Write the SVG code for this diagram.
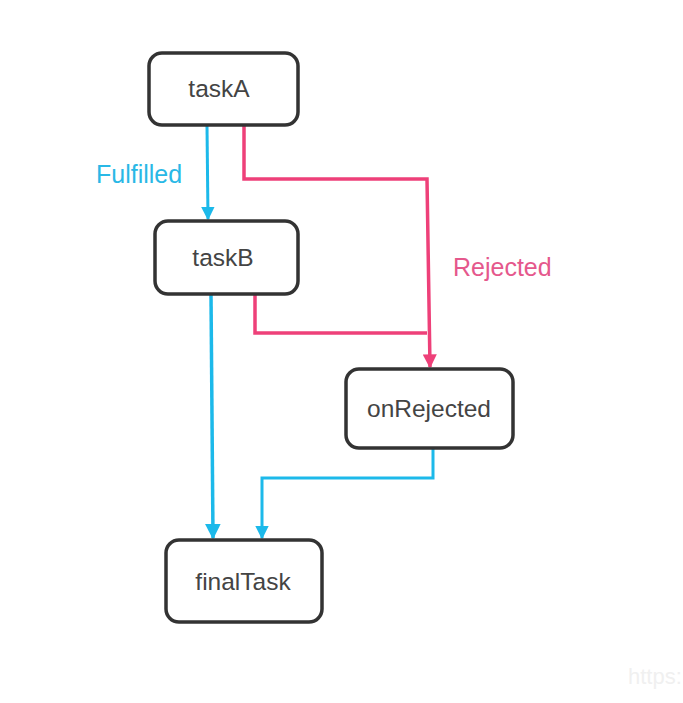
<svg xmlns="http://www.w3.org/2000/svg" width="683" height="703" viewBox="0 0 683 703">
<style>
.node rect{fill:#fff;stroke:#333;stroke-width:3.5}
.node text{font-family:"Liberation Sans",Arial,sans-serif;font-size:24.5px;fill:#444;text-anchor:middle}
.blue{fill:none;stroke:#1cb9ea;stroke-width:3}
.pink{fill:none;stroke:#ee4079;stroke-width:3.5}
.lbl{font-family:"Liberation Sans",Arial,sans-serif;font-size:25px}
</style>
<defs>
<marker id="ab" viewBox="0 0 10 10" refX="9" refY="5" markerWidth="4.5" markerHeight="4.5" markerUnits="strokeWidth" orient="auto"><path d="M0,0L10,5L0,10z" fill="#1cb9ea"/></marker>
<marker id="ap" viewBox="0 0 10 10" refX="9" refY="5" markerWidth="4" markerHeight="4" markerUnits="strokeWidth" orient="auto"><path d="M0,0L10,5L0,10z" fill="#ee4079"/></marker>
</defs>
<rect width="683" height="703" fill="#fff"/>
<g id="connectors">
<path class="blue" d="M207,126L208,219" marker-end="url(#ab)"/>
<path class="pink" d="M244,126V179H427L430,367" marker-end="url(#ap)"/>
<path class="pink" d="M255,295V333H427"/>
<path class="blue" style="stroke-width:3.5" d="M211,295L213,538" marker-end="url(#ab)"/>
<path class="blue" d="M433,449V478H262V538" marker-end="url(#ab)"/>
</g>
<text class="lbl" x="96" y="183" fill="#29b8e6">Fulfilled</text>
<text class="lbl" x="453" y="276" fill="#e5588c">Rejected</text>
<text x="628" y="684" font-family="Liberation Sans,Arial,sans-serif" font-size="22" fill="#f0f0f0">https:</text>
<g id="taskA" class="node"><rect x="149" y="53" width="149" height="72" rx="13"/><text x="219" y="97">taskA</text></g>
<g id="taskB" class="node"><rect x="155" y="221" width="143" height="73" rx="13"/><text x="223" y="266">taskB</text></g>
<g id="onRejected" class="node"><rect x="346" y="369" width="167" height="79" rx="13"/><text x="429" y="417">onRejected</text></g>
<g id="finalTask" class="node"><rect x="166" y="540" width="156" height="82" rx="13"/><text x="243" y="590">finalTask</text></g>
</svg>
